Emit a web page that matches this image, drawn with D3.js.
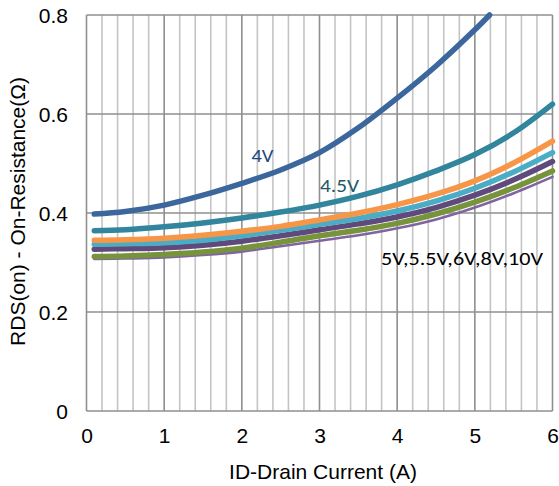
<!DOCTYPE html>
<html>
<head>
<meta charset="utf-8">
<script src="https://cdn.jsdelivr.net/npm/d3@7"></script>
<style>
  html, body { margin: 0; padding: 0; background: #ffffff; }
  svg { display: block; }
</style>
</head>
<body>
<svg id="chart" width="559" height="486"></svg>
<script>
// ---- data ----
const currents = [0.1, 0.5, 1, 1.5, 2, 2.5, 3, 3.5, 4, 4.5, 5, 5.5, 6];
const currents4V = [0.1, 0.5, 1, 1.5, 2, 2.5, 3, 3.5, 4, 4.5, 5, 5.19];
const r4V   = [0.398, 0.403, 0.416, 0.436, 0.460, 0.487, 0.522, 0.572, 0.632, 0.697, 0.770, 0.800];
const r4_5V = [0.364, 0.366, 0.372, 0.380, 0.390, 0.402, 0.416, 0.434, 0.457, 0.485, 0.518, 0.562, 0.620];
const r5V   = [0.345, 0.346, 0.349, 0.355, 0.363, 0.373, 0.386, 0.400, 0.417, 0.438, 0.465, 0.501, 0.545];
const r5_5V = [0.337, 0.338, 0.340, 0.345, 0.354, 0.365, 0.377, 0.389, 0.404, 0.424, 0.450, 0.483, 0.522];
const r6V   = [0.327, 0.328, 0.330, 0.335, 0.343, 0.354, 0.366, 0.378, 0.392, 0.411, 0.436, 0.467, 0.504];
const r8V   = [0.312, 0.313, 0.316, 0.321, 0.329, 0.341, 0.354, 0.365, 0.379, 0.398, 0.422, 0.451, 0.485];
const r10V  = [0.307, 0.308, 0.310, 0.315, 0.322, 0.333, 0.344, 0.355, 0.369, 0.387, 0.411, 0.440, 0.473];
const xTicks = [0, 1, 2, 3, 4, 5, 6];
const yTicks = [0, 0.2, 0.4, 0.6, 0.8];
const xTitle = "ID-Drain Current (A)";
const yTitle = "RDS(on) - On-Resistance(Ω)";
const labels = ["4V", "4.5V", "5V,5.5V,6V,8V,10V"];

// ---- layout ----
const svg = d3.select("#chart");
const x = d3.scaleLinear().domain([0, 6]).range([86.5, 552.5]);
const y = d3.scaleLinear().domain([0, 0.8]).range([411, 15]);

// minor vertical grid (every 0.2 A)
const minor = d3.range(0, 30 + 1).map(i => i * 0.2).filter(v => Math.abs(v - Math.round(v)) > 1e-6);
svg.append("g").selectAll("line").data(minor).join("line")
  .attr("x1", d => x(d)).attr("x2", d => x(d))
  .attr("y1", y(0.8)).attr("y2", y(0))
  .attr("stroke", "#c4c4c4").attr("stroke-width", 1.6);

// horizontal major grid
svg.append("g").selectAll("line").data(yTicks).join("line")
  .attr("x1", x(0)).attr("x2", x(6))
  .attr("y1", d => y(d)).attr("y2", d => y(d))
  .attr("stroke", "#8f8f8f").attr("stroke-width", 1.6);

// vertical major grid
svg.append("g").selectAll("line").data(xTicks).join("line")
  .attr("x1", d => x(d)).attr("x2", d => x(d))
  .attr("y1", y(0.8)).attr("y2", y(0))
  .attr("stroke", "#8f8f8f").attr("stroke-width", 1.6);

// axes (labels only)
const xAxis = d3.axisBottom(x).tickValues(xTicks).tickFormat(d3.format("d")).tickSize(0).tickPadding(0);
const gx = svg.append("g").attr("transform", `translate(0,${y(0)})`).call(xAxis);
gx.select(".domain").remove();
gx.selectAll("text").attr("y", 24).attr("dy", "0.36em")
  .attr("font-family", "'Liberation Sans', Arial, sans-serif").attr("font-size", 21).attr("fill", "#000");

const yAxis = d3.axisLeft(y).tickValues(yTicks).tickFormat(d => d === 0 ? "0" : d3.format(".1f")(d)).tickSize(0).tickPadding(0);
const gy = svg.append("g").attr("transform", `translate(68,0)`).call(yAxis);
gy.select(".domain").remove();
gy.selectAll("text").attr("x", 0).attr("dy", "0.34em")
  .attr("font-family", "'Liberation Sans', Arial, sans-serif").attr("font-size", 21).attr("fill", "#000");

// series
const line = d3.line().x(d => x(d[0])).y(d => y(d[1])).curve(d3.curveCatmullRom.alpha(0.5));
const series = [
  { xs: currents,   ys: r10V,  color: "#8064a2", w: 2.6 },
  { xs: currents,   ys: r8V,   color: "#77933c", w: 5.5 },
  { xs: currents,   ys: r6V,   color: "#604a7b", w: 5.5 },
  { xs: currents,   ys: r5_5V, color: "#4bacc6", w: 5.5 },
  { xs: currents,   ys: r5V,   color: "#f79646", w: 5.5 },
  { xs: currents,   ys: r4_5V, color: "#31859c", w: 5.5 },
  { xs: currents4V, ys: r4V,   color: "#3b679c", w: 5.5 }
];
svg.append("g").selectAll("path").data(series).join("path")
  .attr("d", s => line(s.xs.map((v, i) => [v, s.ys[i]])))
  .attr("fill", "none")
  .attr("stroke", s => s.color)
  .attr("stroke-width", s => s.w)
  .attr("stroke-linejoin", "round")
  .attr("stroke-linecap", "round");

// series labels
const labelFont = "Carlito, Calibri, Lato, 'Open Sans', sans-serif";
const lab = [
  { t: labels[0], x: 251.5, y: 161.7, c: "#1f497d", len: 22 },
  { t: labels[1], x: 320, y: 191.7, c: "#215968", len: 39 },
  { t: labels[2], x: 381, y: 265, c: "#000000", len: 162 }
];
svg.append("g").selectAll("text").data(lab).join("text")
  .attr("x", d => d.x).attr("y", d => d.y)
  .attr("font-family", labelFont).attr("font-size", 19)
  .attr("fill", d => d.c)
  .attr("textLength", d => d.len).attr("lengthAdjust", "spacingAndGlyphs")
  .text(d => d.t);

// axis titles
svg.append("text")
  .attr("x", 323).attr("y", 472).attr("dy", "0.35em")
  .attr("text-anchor", "middle")
  .attr("font-family", "'Liberation Sans', Arial, sans-serif").attr("font-size", 21)
  .text(xTitle);
svg.append("text")
  .attr("transform", "translate(18,211.5) rotate(-90)")
  .attr("dy", "0.35em")
  .attr("text-anchor", "middle")
  .attr("font-family", "'Liberation Sans', Arial, sans-serif").attr("font-size", 21)
  .text(yTitle);
</script>
</body>
</html>
